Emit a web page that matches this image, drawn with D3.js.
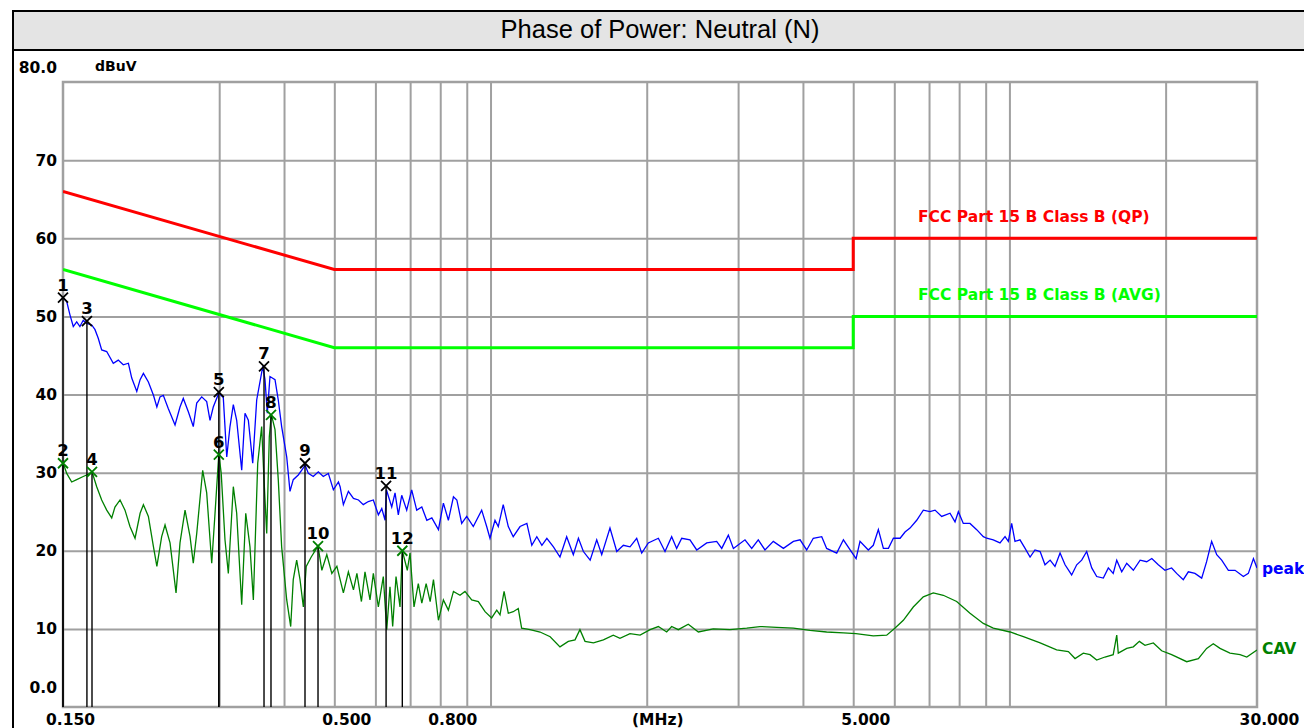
<!DOCTYPE html>
<html>
<head>
<meta charset="utf-8">
<script src="https://cdn.jsdelivr.net/npm/d3@7"></script>
<style>
  body { margin: 0; background: #ffffff; }
  svg { display: block; }
  .tick-label { font-family: "DejaVu Sans", sans-serif; font-weight: bold; font-size: 15.5px; fill: #000; }
</style>
</head>
<body>
<div id="chart"></div>
<script>
// Title
const chartTitle = "Phase of Power: Neutral (N)";

// Axis ticks
const yTickValues = [0, 10, 20, 30, 40, 50, 60, 70, 80];
const yTickLabels = ["0.0", "10", "20", "30", "40", "50", "60", "70", "80.0"];
const xTickValues = [0.15, 0.5, 0.8, 5, 30];
const xTickLabels = ["0.150", "0.500", "0.800", "5.000", "30.000"];
const xGridValues = [0.3, 0.4, 0.5, 0.6, 0.7, 0.8, 0.9, 1, 2, 3, 4, 5, 6, 7, 8, 9, 10, 20];
const yGridValues = [10, 20, 30, 40, 50, 60, 70];

// Limit lines [MHz, dBuV]
const qpLimit = [[0.15, 66], [0.5, 56], [5, 56], [5, 60], [30, 60]];
const avgLimit = [[0.15, 56], [0.5, 46], [5, 46], [5, 50], [30, 50]];
const limitNames = ["FCC Part 15 B Class B (QP)", "FCC Part 15 B Class B (AVG)"];

// Peak trace [MHz, dBuV]
const peakTrace = [
  [0.150,52.4],[0.1525,51.9],[0.1547,50.2],[0.1570,48.7],[0.1594,49.3],[0.1617,48.7],[0.1641,49.5],[0.1666,49.1],
  [0.1704,48.9],[0.1729,48.3],[0.1754,47.2],[0.1781,45.7],[0.1821,45.5],[0.1875,44.0],[0.1917,44.4],[0.1960,43.8],
  [0.2005,44.0],[0.2035,42.1],[0.2081,40.4],[0.2112,41.9],[0.2143,42.7],[0.2191,41.6],[0.2241,39.9],[0.2275,38.4],
  [0.2307,39.7],[0.2341,39.9],[0.2393,38.2],[0.2466,36.1],[0.2521,38.4],[0.2558,39.5],[0.2616,37.8],[0.2674,35.9],
  [0.2715,38.9],[0.2776,39.7],[0.2838,39.1],[0.2880,36.7],[0.2922,38.4],[0.2995,40.2],[0.3055,39.6],[0.3102,32.0],
  [0.3147,35.9],[0.3194,38.7],[0.3242,36.7],[0.3315,30.3],[0.3364,37.6],[0.3414,36.7],[0.3481,31.2],[0.3543,39.3],
  [0.3640,43.6],[0.3676,41.9],[0.3714,37.6],[0.3758,42.3],[0.3843,41.9],[0.3899,39.3],[0.3958,35.9],[0.4048,32.0],
  [0.4107,27.6],[0.4167,29.1],[0.4261,29.7],[0.4358,30.6],[0.4390,31.0],[0.4456,29.9],[0.4554,29.5],[0.4657,30.1],
  [0.4761,29.5],[0.4869,29.9],[0.4979,27.8],[0.5092,28.8],[0.5130,28.2],[0.5205,25.9],[0.5322,27.6],[0.5443,26.7],
  [0.5566,26.5],[0.5686,25.9],[0.5814,26.3],[0.5945,26.5],[0.6079,24.6],[0.6172,25.4],[0.6263,23.9],[0.6300,27.8],
  [0.6451,25.6],[0.6546,27.4],[0.6642,24.6],[0.6743,27.1],[0.6894,25.2],[0.7048,27.8],[0.7207,25.2],[0.7372,25.6],
  [0.7538,23.9],[0.7707,24.2],[0.7936,22.7],[0.8113,26.1],[0.8294,23.9],[0.8483,26.9],[0.8612,26.5],[0.8799,23.5],
  [0.8997,24.4],[0.9264,23.1],[0.9615,25.2],[0.9831,23.1],[0.9976,21.6],[1.020,23.9],[1.035,23.1],[1.058,25.9],
  [1.082,23.1],[1.106,21.8],[1.140,23.1],[1.175,23.5],[1.201,20.7],[1.228,21.8],[1.256,20.7],[1.284,21.6],
  [1.322,20.5],[1.361,19.2],[1.402,21.8],[1.444,19.5],[1.477,21.6],[1.510,19.9],[1.556,18.8],[1.602,21.4],
  [1.638,19.5],[1.699,22.9],[1.751,19.9],[1.803,20.7],[1.857,20.5],[1.913,21.6],[1.956,19.7],[2.014,21.0],
  [2.106,21.6],[2.169,19.9],[2.234,21.8],[2.284,20.3],[2.336,21.6],[2.423,21.4],[2.497,20.1],[2.610,21.0],
  [2.728,21.2],[2.790,20.3],[2.873,22.0],[2.938,20.3],[3.093,21.4],[3.187,20.3],[3.281,21.4],[3.380,20.1],
  [3.507,21.2],[3.668,20.3],[3.834,21.2],[3.950,21.4],[4.067,20.1],[4.188,21.6],[4.348,21.8],[4.444,20.3],
  [4.647,19.7],[4.787,21.4],[4.932,20.1],[5.064,19.0],[5.153,21.2],[5.346,20.1],[5.466,20.7],[5.590,22.7],
  [5.716,20.3],[5.845,20.3],[5.976,21.6],[6.157,21.6],[6.292,22.4],[6.433,22.9],[6.627,23.9],[6.824,25.2],
  [7.029,25.0],[7.189,25.2],[7.404,24.4],[7.683,24.8],[7.855,23.7],[7.972,25.0],[8.149,23.5],[8.395,23.5],
  [8.648,22.7],[8.906,21.8],[9.041,21.6],[9.308,21.4],[9.591,21.0],[9.807,21.8],[9.952,21.2],[10.10,23.5],
  [10.25,21.2],[10.48,21.4],[10.72,20.3],[10.96,19.2],[11.20,20.1],[11.46,19.9],[11.71,18.2],[11.98,18.8],
  [12.24,18.0],[12.52,19.7],[12.80,18.2],[13.18,16.9],[13.48,18.2],[13.78,18.8],[14.09,19.9],[14.41,17.8],
  [14.73,16.7],[15.17,16.5],[15.51,17.8],[15.85,17.1],[16.10,18.8],[16.46,17.3],[16.83,18.4],[17.33,17.5],
  [17.86,18.8],[18.39,18.6],[18.81,19.0],[19.36,18.2],[19.94,17.5],[20.54,17.8],[21.00,17.1],[21.63,16.3],
  [22.12,17.3],[22.78,17.1],[23.47,16.5],[23.99,18.6],[24.53,21.2],[25.09,19.5],[25.65,18.8],[26.42,17.5],
  [27.22,17.5],[28.24,16.7],[28.87,17.1],[29.53,19.0],[30.0,17.8]
];

// CAV trace [MHz, dBuV]
const cavTrace = [
  [0.150,31.3],[0.1525,29.9],[0.1559,28.8],[0.1594,29.1],[0.1641,29.5],[0.1666,29.7],[0.1706,30.1],[0.1742,28.2],
  [0.1781,26.5],[0.1821,25.2],[0.1862,24.2],[0.1889,25.6],[0.1932,26.5],[0.1975,25.2],[0.2019,23.1],[0.2065,21.6],
  [0.2112,24.8],[0.2143,25.9],[0.2191,24.4],[0.2241,20.5],[0.2275,18.0],[0.2324,21.8],[0.2359,23.3],[0.2412,21.0],
  [0.2477,14.6],[0.2521,21.0],[0.2578,25.2],[0.2636,21.8],[0.2674,18.4],[0.2715,22.2],[0.2788,30.3],[0.2838,27.4],
  [0.2902,18.4],[0.2945,24.8],[0.2995,32.4],[0.3027,29.9],[0.3078,21.4],[0.3124,17.1],[0.3194,28.2],[0.3242,24.8],
  [0.3315,13.1],[0.3375,24.8],[0.3439,20.5],[0.3491,13.7],[0.3559,31.2],[0.3622,35.9],[0.3660,29.1],[0.3704,22.2],
  [0.3747,34.6],[0.3780,37.5],[0.3843,35.5],[0.3899,29.1],[0.3958,20.5],[0.4048,13.7],[0.4120,10.3],[0.4167,16.3],
  [0.4231,18.8],[0.4294,16.3],[0.4358,12.8],[0.4414,18.0],[0.4513,19.2],[0.4651,20.6],[0.4731,17.5],[0.4836,19.5],
  [0.4945,17.1],[0.5057,18.0],[0.5205,14.6],[0.5322,17.3],[0.5443,15.0],[0.5527,17.1],[0.5639,13.5],[0.5729,17.3],
  [0.5858,13.7],[0.5945,17.1],[0.6079,12.8],[0.6214,16.7],[0.6309,9.9],[0.6401,15.4],[0.6478,10.3],[0.6575,16.7],
  [0.6692,12.8],[0.6761,20.0],[0.6912,17.5],[0.6996,19.7],[0.7121,12.8],[0.7258,15.8],[0.7372,13.3],[0.7515,15.8],
  [0.7650,13.5],[0.7763,16.3],[0.7936,11.1],[0.8113,13.7],[0.8294,12.4],[0.8483,14.8],[0.8733,14.3],[0.8929,14.8],
  [0.9198,13.7],[0.9474,13.5],[0.9760,12.2],[1.005,11.4],[1.028,12.4],[1.043,11.8],[1.062,14.8],[1.082,12.0],
  [1.106,12.2],[1.131,12.6],[1.148,10.1],[1.192,9.9],[1.246,9.6],[1.303,9.0],[1.361,7.7],[1.412,8.4],
  [1.455,8.6],[1.487,9.9],[1.521,8.4],[1.579,8.2],[1.650,8.6],[1.724,9.2],[1.776,8.8],[1.857,9.4],
  [1.942,9.2],[2.030,9.9],[2.106,10.3],[2.185,9.6],[2.234,10.3],[2.301,9.9],[2.405,10.6],[2.515,9.6],
  [2.687,10.0],[2.894,9.9],[3.117,10.1],[3.306,10.3],[3.561,10.2],[3.834,10.1],[4.128,9.8],[4.444,9.6],
  [4.787,9.5],[5.062,9.4],[5.466,9.1],[5.801,9.2],[6.021,10.1],[6.245,11.1],[6.527,12.8],[6.824,14.1],
  [7.134,14.6],[7.456,14.3],[7.913,13.5],[8.395,12.0],[8.906,10.7],[9.308,10.1],[10.03,9.6],[10.64,9.0],
  [11.46,8.2],[12.33,7.3],[12.99,7.1],[13.38,6.2],[13.88,6.9],[14.30,6.7],[14.73,6.0],[15.28,6.4],
  [15.85,6.7],[16.10,9.2],[16.21,6.9],[16.83,7.5],[17.33,7.7],[17.80,8.4],[18.25,7.9],[18.94,8.2],
  [19.65,7.2],[20.54,6.7],[21.96,5.8],[23.13,6.2],[23.99,7.5],[24.71,8.1],[25.46,7.5],[26.61,6.9],
  [27.83,6.7],[28.67,6.4],[30.0,7.3]
];

// Markers: [number, MHz, dBuV]
const peakMarkers = [[1, 0.150, 52.4], [3, 0.1668, 49.4], [5, 0.2995, 40.3], [7, 0.3660, 43.6], [9, 0.4390, 31.2], [11, 0.6291, 28.3]];
const cavMarkers = [[2, 0.150, 31.2], [4, 0.1706, 30.1], [6, 0.2995, 32.3], [8, 0.3775, 37.4], [10, 0.4651, 20.6], [12, 0.6761, 20.0]];

// Colors
const qpColor = "#ff0000";
const avgColor = "#00ff00";
const peakColor = "#0000ff";
const cavColor = "#008000";
const gridColor = "#a0a0a0";

// Layout
const W = 1304, H = 728;
const plot = { left: 63, top: 82, right: 1257, bottom: 707 };

const svg = d3.select("#chart").append("svg")
    .attr("width", W)
    .attr("height", H);

// Outer frame + title band
svg.append("rect")
    .attr("x", 13).attr("y", 11)
    .attr("width", W + 10).attr("height", 39)
    .attr("fill", "#e4e4e4")
    .attr("stroke", "#000")
    .attr("stroke-width", 2);

svg.append("line")
    .attr("x1", 13).attr("x2", 13)
    .attr("y1", 11).attr("y2", H)
    .attr("stroke", "#000")
    .attr("stroke-width", 2);

svg.append("text")
    .attr("x", 660).attr("y", 38)
    .attr("text-anchor", "middle")
    .style("font-family", "'Liberation Sans', Arial, sans-serif")
    .style("font-size", "25.5px")
    .style("fill", "#000")
    .text(chartTitle);

// Scales
const x = d3.scaleLog().domain([0.15, 30]).range([plot.left, plot.right]);
const y = d3.scaleLinear().domain([0, 80]).range([plot.bottom, plot.top]);
const plotW = plot.right - plot.left;
const plotH = plot.bottom - plot.top;

// Grid
svg.append("g")
    .attr("transform", `translate(0,${plot.bottom})`)
    .call(d3.axisBottom(x).tickValues(xGridValues).tickSize(-plotH).tickFormat(""))
    .call(g => g.select(".domain").remove())
    .selectAll("line").attr("stroke", gridColor).attr("stroke-width", 2);

svg.append("g")
    .attr("transform", `translate(${plot.left},0)`)
    .call(d3.axisLeft(y).tickValues(yGridValues).tickSize(-plotW).tickFormat(""))
    .call(g => g.select(".domain").remove())
    .selectAll("line").attr("stroke", gridColor).attr("stroke-width", 2);

// Plot frame
svg.append("rect")
    .attr("x", plot.left).attr("y", plot.top)
    .attr("width", plotW).attr("height", plotH)
    .attr("fill", "none")
    .attr("stroke", gridColor)
    .attr("stroke-width", 2.5);

// Y axis labels
const yAxisG = svg.append("g")
    .attr("transform", `translate(${plot.left},0)`)
    .call(d3.axisLeft(y).tickValues(yTickValues).tickSize(0).tickPadding(6)
        .tickFormat(d => yTickLabels[yTickValues.indexOf(d)]));
yAxisG.select(".domain").remove();
yAxisG.selectAll("text")
    .attr("class", "tick-label")
    .attr("transform", d => d === 80 ? "translate(0,-14)" : d === 0 ? "translate(0,-19)" : null);

svg.append("text")
    .attr("class", "tick-label")
    .attr("x", 95).attr("y", 71)
    .style("font-size", "14px")
    .text("dBuV");

// X axis labels
const xAxisG = svg.append("g")
    .attr("transform", `translate(0,${plot.bottom})`)
    .call(d3.axisBottom(x).tickValues(xTickValues).tickSize(0).tickPadding(7)
        .tickFormat(d => xTickLabels[xTickValues.indexOf(d)]));
xAxisG.select(".domain").remove();
xAxisG.selectAll("text")
    .attr("class", "tick-label")
    .attr("dx", d => d === 0.15 ? 7 : 12);

svg.append("text")
    .attr("class", "tick-label")
    .attr("x", x(2.1)).attr("y", 725)
    .attr("text-anchor", "middle")
    .text("(MHz)");

// Clip for traces
svg.append("defs").append("clipPath").attr("id", "plot-clip")
    .append("rect")
    .attr("x", plot.left).attr("y", plot.top)
    .attr("width", plotW).attr("height", plotH);

const line = d3.line().x(d => x(d[0])).y(d => y(d[1]));

const traces = svg.append("g").attr("clip-path", "url(#plot-clip)");

traces.append("path").datum(cavTrace)
    .attr("d", line).attr("fill", "none")
    .attr("stroke", cavColor).attr("stroke-width", 1.3);

traces.append("path").datum(peakTrace)
    .attr("d", line).attr("fill", "none")
    .attr("stroke", peakColor).attr("stroke-width", 1.3);

traces.append("path").datum(qpLimit)
    .attr("d", line).attr("fill", "none")
    .attr("stroke", qpColor).attr("stroke-width", 3);

traces.append("path").datum(avgLimit)
    .attr("d", line).attr("fill", "none")
    .attr("stroke", avgColor).attr("stroke-width", 3);

// Limit names
const legendFont = "'DejaVu Sans', sans-serif";
svg.append("text")
    .attr("x", 918).attr("y", y(qpLimit[qpLimit.length - 1][1]) - 16)
    .style("font-family", legendFont).style("font-weight", "bold").style("font-size", "15.5px")
    .style("fill", qpColor)
    .text(limitNames[0]);

svg.append("text")
    .attr("x", 918).attr("y", y(avgLimit[avgLimit.length - 1][1]) - 16)
    .style("font-family", legendFont).style("font-weight", "bold").style("font-size", "15.5px")
    .style("fill", avgColor)
    .text(limitNames[1]);

// Trace names
svg.append("text")
    .attr("x", 1262).attr("y", y(peakTrace[peakTrace.length - 1][1]) + 6)
    .style("font-family", legendFont).style("font-weight", "bold").style("font-size", "15.5px")
    .style("fill", peakColor)
    .text("peak");

svg.append("text")
    .attr("x", 1262).attr("y", y(cavTrace[cavTrace.length - 1][1]) + 4)
    .style("font-family", legendFont).style("font-weight", "bold").style("font-size", "15.5px")
    .style("fill", cavColor)
    .text("CAV");

// Markers
function drawMarkers(list, color) {
    const g = svg.append("g");
    g.selectAll(".stem").data(list).enter().append("line")
        .attr("x1", d => x(d[1])).attr("x2", d => x(d[1]))
        .attr("y1", d => y(d[2])).attr("y2", plot.bottom)
        .attr("stroke", "#000").attr("stroke-width", 1.4);
    g.selectAll(".cross").data(list).enter().append("path")
        .attr("transform", d => `translate(${x(d[1])},${y(d[2])})`)
        .attr("d", "M-5,-5L5,5M-5,5L5,-5")
        .attr("stroke", color).attr("stroke-width", 1.8).attr("fill", "none");
    g.selectAll(".num").data(list).enter().append("text")
        .attr("x", d => x(d[1])).attr("y", d => y(d[2]) - 7)
        .attr("text-anchor", "middle")
        .style("font-family", legendFont).style("font-weight", "bold").style("font-size", "16.5px")
        .style("fill", "#000")
        .text(d => d[0]);
}
drawMarkers(peakMarkers, "#000");
drawMarkers(cavMarkers, cavColor);
</script>
</body>
</html>
